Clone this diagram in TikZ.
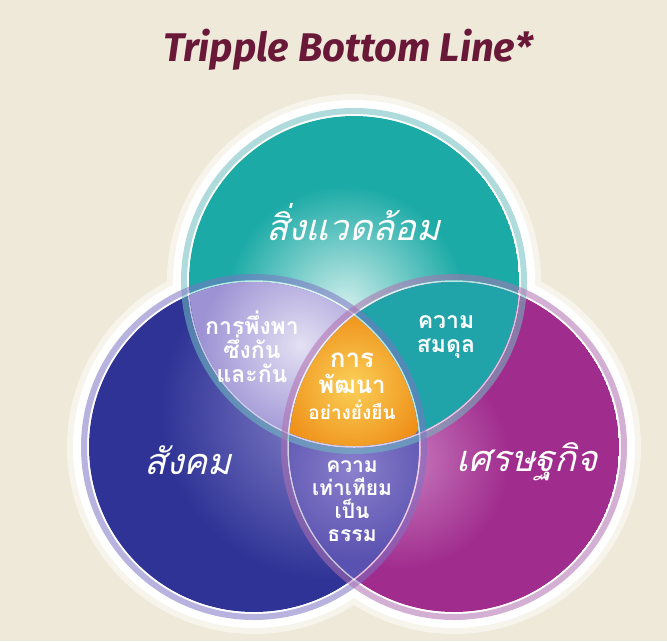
\documentclass[tikz,border=0pt]{standalone}
\usepackage{fontspec}
\usepackage{tikz}
\usetikzlibrary{positioning}
\newfontfamily\thaifont[Script=Thai]{Loma}
\newfontfamily\thaihand[Script=Thai,FakeSlant=0.25]{Loma}
\newfontfamily\titlefont{Fira Sans}
\definecolor{paper}{HTML}{EFE9DA}
\definecolor{titlered}{HTML}{6A1838}
\definecolor{envcol}{HTML}{1BAAA6}
\definecolor{envhi}{HTML}{CDEDEA}
\definecolor{envring}{HTML}{6FBFC0}
\definecolor{soccol}{HTML}{2E3395}
\definecolor{sochi}{HTML}{8C86CC}
\definecolor{socring}{HTML}{7C74C4}
\definecolor{ecocol}{HTML}{A02C8D}
\definecolor{ecohi}{HTML}{C77BBE}
\definecolor{ecoring}{HTML}{B070B0}
\definecolor{depcol}{HTML}{9C92D4}
\definecolor{dephi}{HTML}{E4E0F3}
\definecolor{balcol}{HTML}{21A4A9}
\definecolor{faircol}{HTML}{5A52B0}
\definecolor{fairhi}{HTML}{8A80CC}
\definecolor{susout}{HTML}{EE8C15}
\definecolor{susin}{HTML}{FBD058}
\newcommand{\crad}{165pt}
\tikzstyle{title} = [font=\titlefont\bfseries\itshape\fontsize{40}{40}\selectfont,
text=titlered]
\tikzstyle{hand} = [font=\thaihand\fontsize{36}{36}\selectfont, text=white,
inner sep=0pt]
\tikzstyle{inner} = [font=\thaifont\bfseries\fontsize{21}{23}\selectfont,
text=white, align=center, inner sep=0pt]
\tikzstyle{big inner} = [inner, font=\thaifont\bfseries\fontsize{23}{24}\selectfont]
\tikzstyle{ring} = [line width=6pt, opacity=0.55]
\tikzstyle{rim} = [line width=1.5pt, white, opacity=0.7]

\begin{document}
\begin{tikzpicture}[x=1pt,y=-1pt]

  \useasboundingbox (0,0) rectangle (667,641);
  \fill[paper] (0,0) rectangle (667,641);

  \coordinate (ct) at (354,281);
  \coordinate (cl) at (254,447);
  \coordinate (cr) at (454,447);

  % white halo
  \fill[white, opacity=0.5] (ct) circle (187pt) (cl) circle (187pt) (cr) circle (187pt);
  \fill[white] (ct) circle (181pt) (cl) circle (181pt) (cr) circle (181pt);

  % the three circles
  \begin{scope}
    \clip (ct) circle (\crad);
    \fill[envcol] (ct) circle (\crad);
    \shade[inner color=envhi, outer color=envcol] (345,305) circle (120pt);
  \end{scope}
  \begin{scope}
    \clip (cl) circle (\crad);
    \fill[soccol] (cl) circle (\crad);
    \shade[inner color=sochi, outer color=soccol] (330,410) circle (170pt);
  \end{scope}
  \begin{scope}
    \clip (cr) circle (\crad);
    \fill[ecocol] (cr) circle (\crad);
    \shade[inner color=ecohi, outer color=ecocol] (400,460) circle (110pt);
  \end{scope}

  % overlaps
  \begin{scope}
    \clip (ct) circle (\crad);
    \clip (cl) circle (\crad);
    \fill[depcol] (cl) circle (\crad);
    \shade[inner color=dephi, outer color=depcol] (300,345) circle (100pt);
  \end{scope}
  \begin{scope}
    \clip (ct) circle (\crad);
    \clip (cr) circle (\crad);
    \fill[balcol] (cr) circle (\crad);
  \end{scope}
  \begin{scope}
    \clip (cl) circle (\crad);
    \clip (cr) circle (\crad);
    \fill[faircol] (cl) circle (\crad);
    \shade[inner color=fairhi, outer color=faircol] (352,470) circle (90pt);
  \end{scope}
  \begin{scope}
    \clip (ct) circle (\crad);
    \clip (cl) circle (\crad);
    \clip (cr) circle (\crad);
    \shade[inner color=susin, outer color=susout] (352,385) circle (80pt);
  \end{scope}

  % rims
  \draw[rim] (ct) circle (166pt) (cl) circle (166pt) (cr) circle (166pt);
  \draw[ring, envring] (ct) circle (170pt);
  \draw[ring, socring] (cl) circle (170pt);
  \draw[ring, ecoring] (cr) circle (170pt);

  % labels
  \node[title] (head) at (348,50) {Tripple Bottom Line*};
  \node[hand] (env) at (353,222) {สิ่งแวดล้อม};
  \node[hand] (soc) at (188,460) {สังคม};
  \node[hand] (eco) at (527,462) {เศรษฐกิจ};
  \node[big inner] (dep) at (252,347) {การพึ่งพา\\ซึ่งกัน\\และกัน};
  \node[big inner] (bal) at (446,337) {ความ\\สมดุล};
  \node[inner] (fair) at (352,501) {ความ\\เท่าเทียม\\เป็น\\ธรรม};
  \node[inner, font=\thaifont\bfseries\fontsize{26}{26}\selectfont] (sus) at (352,386)
    {การ\\{\fontsize{24}{26}\selectfont พัฒนา}\\{\fontsize{19}{26}\selectfont อย่างยั่งยืน}};

\end{tikzpicture}
\end{document}
